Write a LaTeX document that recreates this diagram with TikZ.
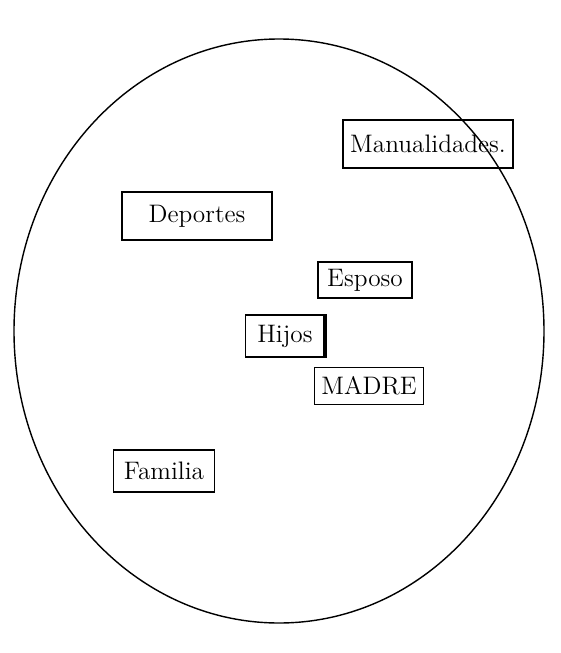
\documentclass[tikz,border=0pt]{standalone}
\usepackage{tikz}
\usetikzlibrary{positioning}

\begin{document}
\begin{tikzpicture}[
    x=0.02cm, y=-0.02cm,
    font=\Large,
    box/.style={draw, thick, inner sep=4pt},
    ring/.style={draw, thick}
]
\useasboundingbox (0,0) rectangle (561,653);
\draw[ring] (279,331) ellipse [x radius=265, y radius=292];

\node[box, minimum height=0.96cm] (manual) at (428,144) {Manualidades.};
\node[box, minimum width=3.0cm, minimum height=0.96cm] (deportes) at (197,216) {Deportes};
\node[box, minimum width=1.88cm, minimum height=0.7cm] (esposo) at (365,280) {Esposo};
\node[box, minimum width=1.58cm, minimum height=0.84cm] (hijos) at (285,336) {Hijos};
\node[box, minimum width=2.04cm, minimum height=0.74cm] (madre) at (369,386) {MADRE};
\node[box, minimum width=2.02cm, minimum height=0.84cm] (familia) at (164,471) {Familia};

\draw[line width=2.2pt] (hijos.north east) -- (hijos.south east);
\end{tikzpicture}
\end{document}
